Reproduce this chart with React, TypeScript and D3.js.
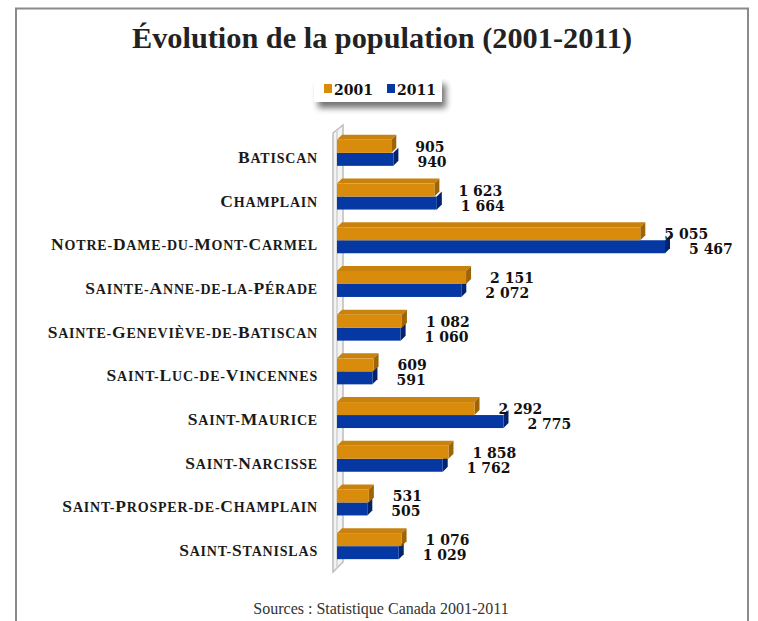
import * as d3 from "d3";
import { useMemo } from "react";

const municipalites = [
  "Batiscan",
  "Champlain",
  "Notre-Dame-du-Mont-Carmel",
  "Sainte-Anne-de-la-Pérade",
  "Sainte-Geneviève-de-Batiscan",
  "Saint-Luc-de-Vincennes",
  "Saint-Maurice",
  "Saint-Narcisse",
  "Saint-Prosper-de-Champlain",
  "Saint-Stanislas",
];
const pop2001 = [905, 1623, 5055, 2151, 1082, 609, 2292, 1858, 531, 1076];
const pop2011 = [940, 1664, 5467, 2072, 1060, 591, 2775, 1762, 505, 1029];
const annees = ["2001", "2011"];

const W = 758;
const H = 621;
const DEPTH = 5;
const BAR_H = 13;

const colors = {
  orange: { front: "#D98C0B", top: "#C9820E", side: "#9E6406" },
  blue: { front: "#0638A4", top: "#2a5cc4", side: "#02236E" },
};

const fmt = (v: number) => d3.format(",")(v).replace(/,/g, " ");

// petites capitales faites à la main : majuscules plus grandes, le reste en capitales réduites
const smallCaps = (s: string) => {
  const parts: { t: string; big: boolean }[] = [];
  for (const ch of s) {
    const big = ch !== ch.toLowerCase() && ch === ch.toUpperCase();
    const last = parts[parts.length - 1];
    if (last && last.big === big) last.t += ch;
    else parts.push({ t: ch, big });
  }
  return parts.map((p, i) => (
    <tspan key={i} fontSize={p.big ? 17.5 : 14}>
      {p.big ? p.t : p.t.toUpperCase()}
    </tspan>
  ));
};

const Bar3D = ({ x0, x1, y, h, c, showTop }: any) => {
  const d = DEPTH;
  return (
    <g>
      {showTop && (
        <polygon
          points={`${x0},${y} ${x0 + d},${y - d} ${x1 + d},${y - d} ${x1},${y}`}
          fill={c.top}
        />
      )}
      <polygon
        points={`${x1},${y} ${x1 + d},${y - d} ${x1 + d},${y + h - d} ${x1},${y + h}`}
        fill={c.side}
      />
      <rect x={x0} y={y} width={x1 - x0} height={h} fill={c.front} />
    </g>
  );
};

export default function App() {
  const x = useMemo(
    () => d3.scaleLinear().domain([0, 6000]).range([337, 697]),
    []
  );
  const y = useMemo(
    () => d3.scaleBand<string>().domain(municipalites).range([131, 568]),
    []
  );
  const top = y.range()[0];
  const bottom = y.range()[1];
  const x0 = x(0);

  return (
    <svg
      width={W}
      height={H}
      style={{ position: "absolute", left: 0, top: 0, background: "#fff" }}
      fontFamily="'Liberation Serif', 'DejaVu Serif', serif"
    >
      <defs>
        <filter id="shadow" x="-20%" y="-20%" width="150%" height="200%">
          <feGaussianBlur in="SourceAlpha" stdDeviation="3" />
          <feOffset dx="4" dy="6" result="b" />
          <feComponentTransfer>
            <feFuncA type="linear" slope="0.55" />
          </feComponentTransfer>
          <feMerge>
            <feMergeNode />
            <feMergeNode in="SourceGraphic" />
          </feMerge>
        </filter>
      </defs>
      <rect x={0} y={0} width={W} height={H} fill="#fff" />
      <path
        d={`M16,${H} L16,8.5 L748,8.5 L748,${H}`}
        fill="none"
        stroke="#8a8a8a"
        strokeWidth={2}
      />

      <text
        x={382}
        y={48}
        textAnchor="middle"
        fontSize={30}
        fontWeight="bold"
        fill="#222"
        fontFamily="'Liberation Serif', serif"
        textLength={500}
        lengthAdjust="spacingAndGlyphs"
      >
        Évolution de la population (2001-2011)
      </text>

      {/* légende */}
      <g>
        <rect x={314} y={78} width={128} height={24} fill="#fff" filter="url(#shadow)" />
        {annees.map((a, i) => (
          <g key={a} transform={`translate(${324 + i * 63},0)`}>
            <rect x={0} y={84} width={8} height={9} fill={i === 0 ? colors.orange.front : colors.blue.front} />
            <text x={10} y={95} fontSize={14} fontWeight="bold" fill="#111" fontFamily="'DejaVu Serif', serif">
              {a}
            </text>
          </g>
        ))}
      </g>

      {/* paroi de l'axe */}
      <polygon
        points={`${x0 - 4},${top + 2} ${x0 + 6},${top - 6} ${x0 + 6},${bottom - 6} ${x0 - 4},${bottom + 4}`}
        fill="#f4f4f4"
        stroke="#bdbdbd"
        strokeWidth={1.5}
      />
      <line x1={x0} x2={x0} y1={top - 1} y2={bottom + 1} stroke="#d0d0d0" strokeWidth={1.5} />

      {municipalites.map((m, i) => {
        const yc = (y(m) ?? 0) + y.bandwidth() / 2;
        const yo = yc - BAR_H;
        const yb = yc;
        return (
          <g key={m}>
            <Bar3D x0={x0} x1={x(pop2011[i])} y={yb} h={BAR_H} c={colors.blue} showTop={false} />
            <Bar3D x0={x0} x1={x(pop2001[i])} y={yo} h={BAR_H} c={colors.orange} showTop={true} />
            <text
              x={318}
              y={yc + 10}
              textAnchor="end"
              fontWeight="bold"
              fill="#1a1a1a"
              letterSpacing={0.8}
            >
              {smallCaps(m)}
            </text>
            <text
              x={x(pop2001[i]) + 24}
              y={yc - 1}
              fontSize={14}
              fontWeight="bold"
              fill="#111"
              fontFamily="'DejaVu Serif', serif"
            >
              {fmt(pop2001[i])}
            </text>
            <text
              x={x(pop2011[i]) + 24}
              y={yc + 14}
              fontSize={14}
              fontWeight="bold"
              fill="#111"
              fontFamily="'DejaVu Serif', serif"
            >
              {fmt(pop2011[i])}
            </text>
          </g>
        );
      })}

      <text x={381} y={614} textAnchor="middle" fontSize={16} fill="#333">
        Sources : Statistique Canada 2001-2011
      </text>
    </svg>
  );
}
